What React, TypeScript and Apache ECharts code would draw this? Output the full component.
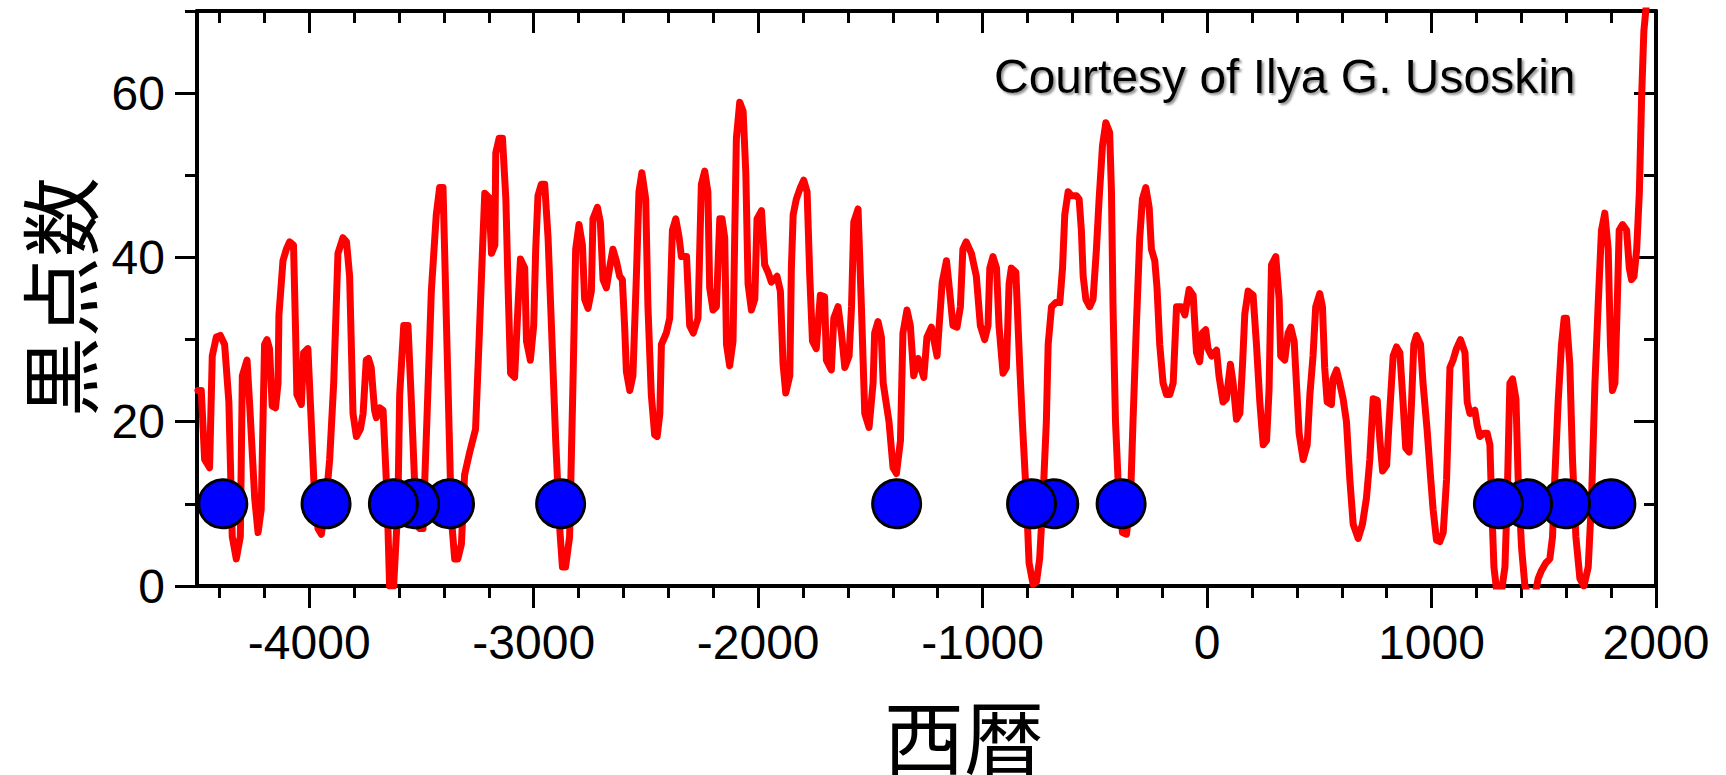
import React, { useEffect, useRef } from "react";
import * as echarts from "echarts";

// Reconstructed sunspot number (year, value)
const years = [
  -4496, -4481, -4466, -4444, -4432, -4414, -4396, -4377, -4358, -4343, -4325, -4307, -4298, -4277, -4265, -4243,
  -4228, -4214, -4199, -4188, -4177, -4165, -4150, -4139, -4135, -4117, -4102, -4087, -4070, -4061, -4055, -4035,
  -4025, -4006, -3991, -3976, -3961, -3946, -3924, -3909, -3891, -3872, -3850, -3834, -3820, -3805, -3790, -3772,
  -3760, -3746, -3736, -3724, -3709, -3701, -3686, -3671, -3653, -3642, -3624, -3605, -3597, -3579, -3560, -3545,
  -3523, -3508, -3493, -3476, -3456, -3434, -3419, -3404, -3397, -3382, -3367, -3352, -3338, -3322, -3308, -3285,
  -3259, -3244, -3228, -3218, -3199, -3188, -3173, -3169, -3154, -3139, -3124, -3114, -3103, -3085, -3070, -3059,
  -3040, -3032, -3015, -3000, -2991, -2981, -2966, -2951, -2936, -2921, -2902, -2884, -2872, -2858, -2840, -2825,
  -2813, -2798, -2783, -2773, -2758, -2743, -2736, -2716, -2703, -2691, -2676, -2662, -2647, -2632, -2617, -2605,
  -2595, -2587, -2572, -2558, -2543, -2531, -2518, -2501, -2491, -2476, -2461, -2450, -2438, -2431, -2409, -2394,
  -2382, -2367, -2352, -2342, -2319, -2305, -2289, -2268, -2253, -2238, -2224, -2216, -2201, -2186, -2171, -2161,
  -2149, -2141, -2127, -2112, -2104, -2097, -2082, -2067, -2055, -2045, -2030, -2015, -2005, -1985, -1971, -1956,
  -1941, -1916, -1901, -1889, -1877, -1859, -1852, -1844, -1830, -1812, -1797, -1782, -1770, -1758, -1741, -1723,
  -1704, -1696, -1674, -1663, -1644, -1629, -1614, -1595, -1584, -1574, -1555, -1540, -1525, -1506, -1488, -1481,
  -1466, -1451, -1443, -1417, -1399, -1384, -1366, -1355, -1337, -1322, -1307, -1288, -1262, -1248, -1228, -1203,
  -1180, -1161, -1147, -1132, -1114, -1099, -1088, -1073, -1050, -1028, -1010, -991, -976, -968, -954, -938,
  -927, -909, -894, -882, -872, -852, -835, -823, -805, -793, -775, -760, -746, -731, -716, -708,
  -693, -674, -656, -644, -634, -619, -604, -582, -570, -560, -552, -540, -523, -508, -493, -481,
  -466, -451, -434, -426, -419, -408, -393, -377, -359, -341, -330, -315, -300, -288, -273, -258,
  -248, -233, -223, -211, -196, -181, -166, -151, -136, -114, -99, -80, -62, -47, -33, -21,
  -6, 4, 20, 42, 53, 71, 86, 104, 116, 131, 146, 158, 168, 183, 205, 220,
  235, 250, 265, 276, 287, 306, 321, 328, 346, 361, 373, 388, 398, 410, 428, 446,
  458, 472, 484, 502, 514, 524, 535, 554, 561, 577, 591, 606, 621, 636, 651, 673,
  692, 710, 725, 740, 758, 770, 782, 800, 811, 829, 844, 859, 873, 885, 900, 911,
  921, 933, 951, 962, 980, 995, 1007, 1022, 1037, 1052, 1067, 1082, 1096, 1111, 1129, 1149,
  1159, 1171, 1193, 1203, 1215, 1233, 1248, 1260, 1267, 1278, 1292, 1310, 1327, 1337, 1349, 1361,
  1376, 1386, 1401, 1416, 1428, 1445, 1462, 1475, 1490, 1509, 1527, 1539, 1549, 1564, 1579, 1591,
  1601, 1616, 1628, 1643, 1661, 1679, 1698, 1713, 1728, 1742, 1757, 1772, 1787, 1797, 1806, 1817,
  1827, 1836, 1851, 1869, 1881, 1891, 1902, 1914, 1926, 1936, 1946, 1958, 1970,
];

const sunspots = [
  23.8, 23.8, 15.4, 14.4, 28, 30.3, 30.5, 29.4, 22.4, 6, 3.3, 6, 25.6, 27.5, 21.9, 10.7,
  6.5, 9.3, 29.4, 30, 28.9, 21.9, 21.7, 24.7, 33, 39.6, 41, 41.9, 41.5, 31.2, 23.3, 22.1,
  28.4, 28.9, 20, 10.7, 7, 6.3, 10.7, 15.4, 24.7, 40.5, 42.4, 41.9, 37.7, 21, 18.2, 19.1,
  21, 27.5, 27.7, 26.6, 21.4, 20.5, 21.7, 21.4, 10.7, 0, 0, 9.8, 23.3, 31.7, 31.7, 22.4,
  7.5, 7, 7, 20, 35.9, 45.2, 48.5, 48.5, 41, 24.7, 8.4, 3.3, 3.3, 5.1, 13.5, 16.3,
  19.1, 29.4, 41, 47.8, 47.3, 40.5, 41.5, 52.7, 54.5, 54.5, 47.1, 36.3, 25.9, 25.4, 34, 39.8,
  38.7, 29.8, 27.5, 31.7, 41, 47.5, 48.9, 48.9, 42.4, 31.7, 17.7, 7, 2.3, 2.3, 6, 24.7,
  41, 44, 41.5, 34.9, 33.8, 35.9, 44.7, 46.1, 44.3, 37.3, 36.3, 38.7, 41, 39.6, 37.7, 37.3,
  31.7, 26.1, 23.8, 25.6, 37.3, 48, 50.3, 47.1, 34, 23.3, 18.4, 18.2, 21, 29.4, 30.8, 32.6,
  43.3, 44.7, 42.4, 40.1, 40.1, 31.7, 30.8, 32.6, 48.9, 50.5, 48, 36.3, 33.6, 34, 44.7, 44.7,
  42.4, 29.4, 26.8, 29.8, 43.3, 54.5, 58.9, 57.8, 50.3, 36.8, 33.6, 34.9, 44.7, 45.7, 39.1, 38.2,
  37, 37.7, 35.9, 27, 23.5, 25.6, 38.7, 45.2, 47.1, 48.5, 49.4, 48, 37.7, 29.8, 28.9, 35.4,
  35.2, 27.5, 26.3, 32.6, 34, 30.8, 26.6, 28, 34, 44.3, 45.9, 34, 21, 19.3, 24.7, 30.8,
  32.2, 30.3, 24.7, 20, 14.4, 13.7, 17.7, 30.8, 33.6, 31.7, 25.6, 27.7, 25.4, 30.3, 31.5, 28,
  37, 39.6, 35.9, 31.7, 31.5, 34, 41, 41.9, 40.5, 37.7, 31.7, 30, 31.7, 38.7, 40.1, 38.7,
  31.7, 25.9, 26.6, 36.8, 38.7, 38.2, 27, 20, 10.7, 2.8, 0.2, 0.5, 3.3, 10.7, 20, 29.4,
  34, 34.5, 34.5, 38.7, 45.2, 48, 47.5, 47.5, 47.1, 43.3, 37.7, 34.9, 34, 34.9, 41, 47.1,
  53.6, 56.4, 55.2, 48, 34, 20, 10.7, 6.5, 6.3, 10.7, 20, 31.7, 42.4, 47.1, 48.5, 46.1,
  41, 39.6, 36.3, 29.4, 24.7, 23.3, 23.3, 24.7, 34, 34, 33, 36.1, 35.4, 28.4, 27.3, 30.8,
  31.2, 28.9, 28, 28.7, 25.6, 22.4, 22.8, 27, 24.7, 20.3, 21, 27, 33.1, 35.9, 35.4, 29.4,
  22.4, 17.2, 17.7, 23.8, 39.1, 40.1, 34.9, 28, 27.5, 30.8, 31.5, 29.8, 24.7, 18.6, 15.4, 17.2,
  23.3, 28, 34, 35.6, 34, 26.6, 22.4, 22.1, 25.2, 26.3, 24.7, 22.8, 20, 13, 7.5, 5.8,
  7.5, 10.7, 15.4, 22.8, 22.6, 17.7, 14, 14.7, 20, 28, 29.1, 28.4, 22.4, 16.8, 16.3, 22.4,
  29.4, 30.5, 29.4, 24.7, 19.1, 13.5, 9.3, 5.6, 5.4, 6.5, 13, 26.6, 27.5, 28.9, 30, 28.4,
  22.4, 21, 21.4, 19.6, 18.2, 18.6, 18.6, 17.2, 10.7, 2.3, -1, -1, 2.3, 10.7, 24.7, 25.2,
  22.8, 13, 4.7, 0, -1, -3, -1, 0.9, 1.9, 2.8, 3.3, 6, 13, 22.4, 29.4, 32.6,
  32.6, 27, 15.4, 6, 0.9, 0, 2.3, 10.7, 24.7, 34, 43.3, 45.4, 41, 29.4, 23.8, 24.7,
  34, 43.3, 44, 43.3, 38.7, 37.3, 37.7, 41, 48, 59.6, 67.6, 71, 80,
];

// Grand minima markers (year), drawn at a fixed level
const minimaYears = [-4385, -3925, -3625, -3530, -3375, -2880, -1383, -782, -683, -383, 1298, 1428, 1597, 1799];
const minimaLevel = [10, 10, 10, 10, 10, 10, 10, 10, 10, 10, 10, 10, 10, 10];

// Axes
const xMin = -4500;
const xMax = 2000;
const yMin = 0;
const yMax = 70;
const xMajorTicks = [-4000, -3000, -2000, -1000, 0, 1000, 2000];
const xMinorTicks = [
  -4400, -4200, -3800, -3600, -3400, -3200, -2800, -2600, -2400, -2200, -1800, -1600, -1400, -1200,
  -800, -600, -400, -200, 200, 400, 600, 800, 1200, 1400, 1600, 1800,
];
const yMajorTicks = [0, 20, 40, 60];
const yMinorTicks = [10, 30, 50, 70];

const xTitle = "西暦";
const yTitle = "黒点数";
const credit = "Courtesy of Ilya G. Usoskin";

const LATIN = '"Liberation Sans", Arial, sans-serif';
const CJK = '"Noto Sans CJK JP", "Noto Sans CJK SC", sans-serif';

function makeAxis(kind: "x" | "y", position: string, ticks: number[], len: number, inside: boolean, main: boolean, labels: boolean) {
  const ax: any = {
    type: "value",
    min: kind === "x" ? xMin : yMin,
    max: kind === "x" ? xMax : yMax,
    position,
    offset: 0,
    splitLine: { show: false },
    axisLine: { show: main, onZero: false, lineStyle: { color: "#000", width: 4 } },
    axisTick: { show: true, inside, length: len, customValues: ticks, lineStyle: { color: "#000", width: 3 } },
    axisLabel: labels
      ? {
          show: true,
          customValues: ticks,
          formatter: (v: number) => String(v),
          fontSize: 48,
          fontFamily: LATIN,
          color: "#000",
          margin: 32,
          padding: kind === "y" ? [0, 0, 8, 0] : 0,
        }
      : { show: false },
    axisPointer: { show: false },
  };
  return ax;
}

export default function App() {
  const ref = useRef<HTMLDivElement>(null);

  useEffect(() => {
    if (!ref.current) return;
    const chart = echarts.init(ref.current, undefined, { renderer: "svg" });
    const lineData = years.map((y, i) => [y, sunspots[i]]);
    const dotData = minimaYears.map((y, i) => [y, minimaLevel[i]]).reverse();

    chart.setOption({
      animation: false,
      backgroundColor: "#ffffff",
      grid: { left: 197, right: 70, top: 11, bottom: 189, containLabel: false, outerBoundsMode: "none" },
      xAxis: [
        makeAxis("x", "bottom", xMajorTicks, 22, false, true, true),
        makeAxis("x", "bottom", xMinorTicks, 12, false, false, false),
        makeAxis("x", "top", xMajorTicks, 22, true, true, false),
        makeAxis("x", "top", xMinorTicks, 12, true, false, false),
      ],
      yAxis: [
        makeAxis("y", "left", yMajorTicks, 22, false, true, true),
        makeAxis("y", "left", yMinorTicks, 12, false, false, false),
        makeAxis("y", "right", yMajorTicks, 22, true, true, false),
        makeAxis("y", "right", yMinorTicks, 12, true, false, false),
      ],
      series: [
        {
          type: "line",
          xAxisIndex: 0,
          yAxisIndex: 0,
          data: lineData,
          showSymbol: false,
          symbol: "none",
          clip: true,
          lineStyle: { color: "#ff0000", width: 7, join: "round", cap: "round" },
          z: 2,
        },
        {
          type: "scatter",
          xAxisIndex: 0,
          yAxisIndex: 0,
          data: dotData,
          symbol: "circle",
          symbolSize: 48,
          itemStyle: { color: "#0000ff", borderColor: "#000000", borderWidth: 3, opacity: 1 },
          z: 3,
        },
      ],
      graphic: [
        {
          type: "text",
          x: 994,
          y: 76,
          z: 10,
          style: {
            text: credit,
            font: `48px ${LATIN}`,
            fill: "#000",
            textAlign: "left",
            textVerticalAlign: "middle",
            verticalAlign: "middle",
            textShadowColor: "rgba(120,120,120,0.8)",
            textShadowOffsetX: 2,
            textShadowOffsetY: 2,
            textShadowBlur: 2,
          },
        },
        {
          type: "text",
          x: 964,
          y: 733,
          z: 10,
          style: {
            text: xTitle,
            font: `80px ${CJK}`,
            fill: "#000",
            textAlign: "center",
            align: "center",
            textVerticalAlign: "middle",
            verticalAlign: "middle",
          },
        },
        {
          type: "text",
          x: 56,
          y: 297,
          rotation: Math.PI / 2,
          z: 10,
          style: {
            text: yTitle,
            font: `80px ${CJK}`,
            fill: "#000",
            textAlign: "center",
            align: "center",
            textVerticalAlign: "middle",
            verticalAlign: "middle",
          },
        },
      ],
    });
    return () => chart.dispose();
  }, []);

  return (
    <div
      ref={ref}
      style={{ position: "absolute", left: 0, top: 0, width: 1726, height: 775, background: "#fff" }}
    />
  );
}
